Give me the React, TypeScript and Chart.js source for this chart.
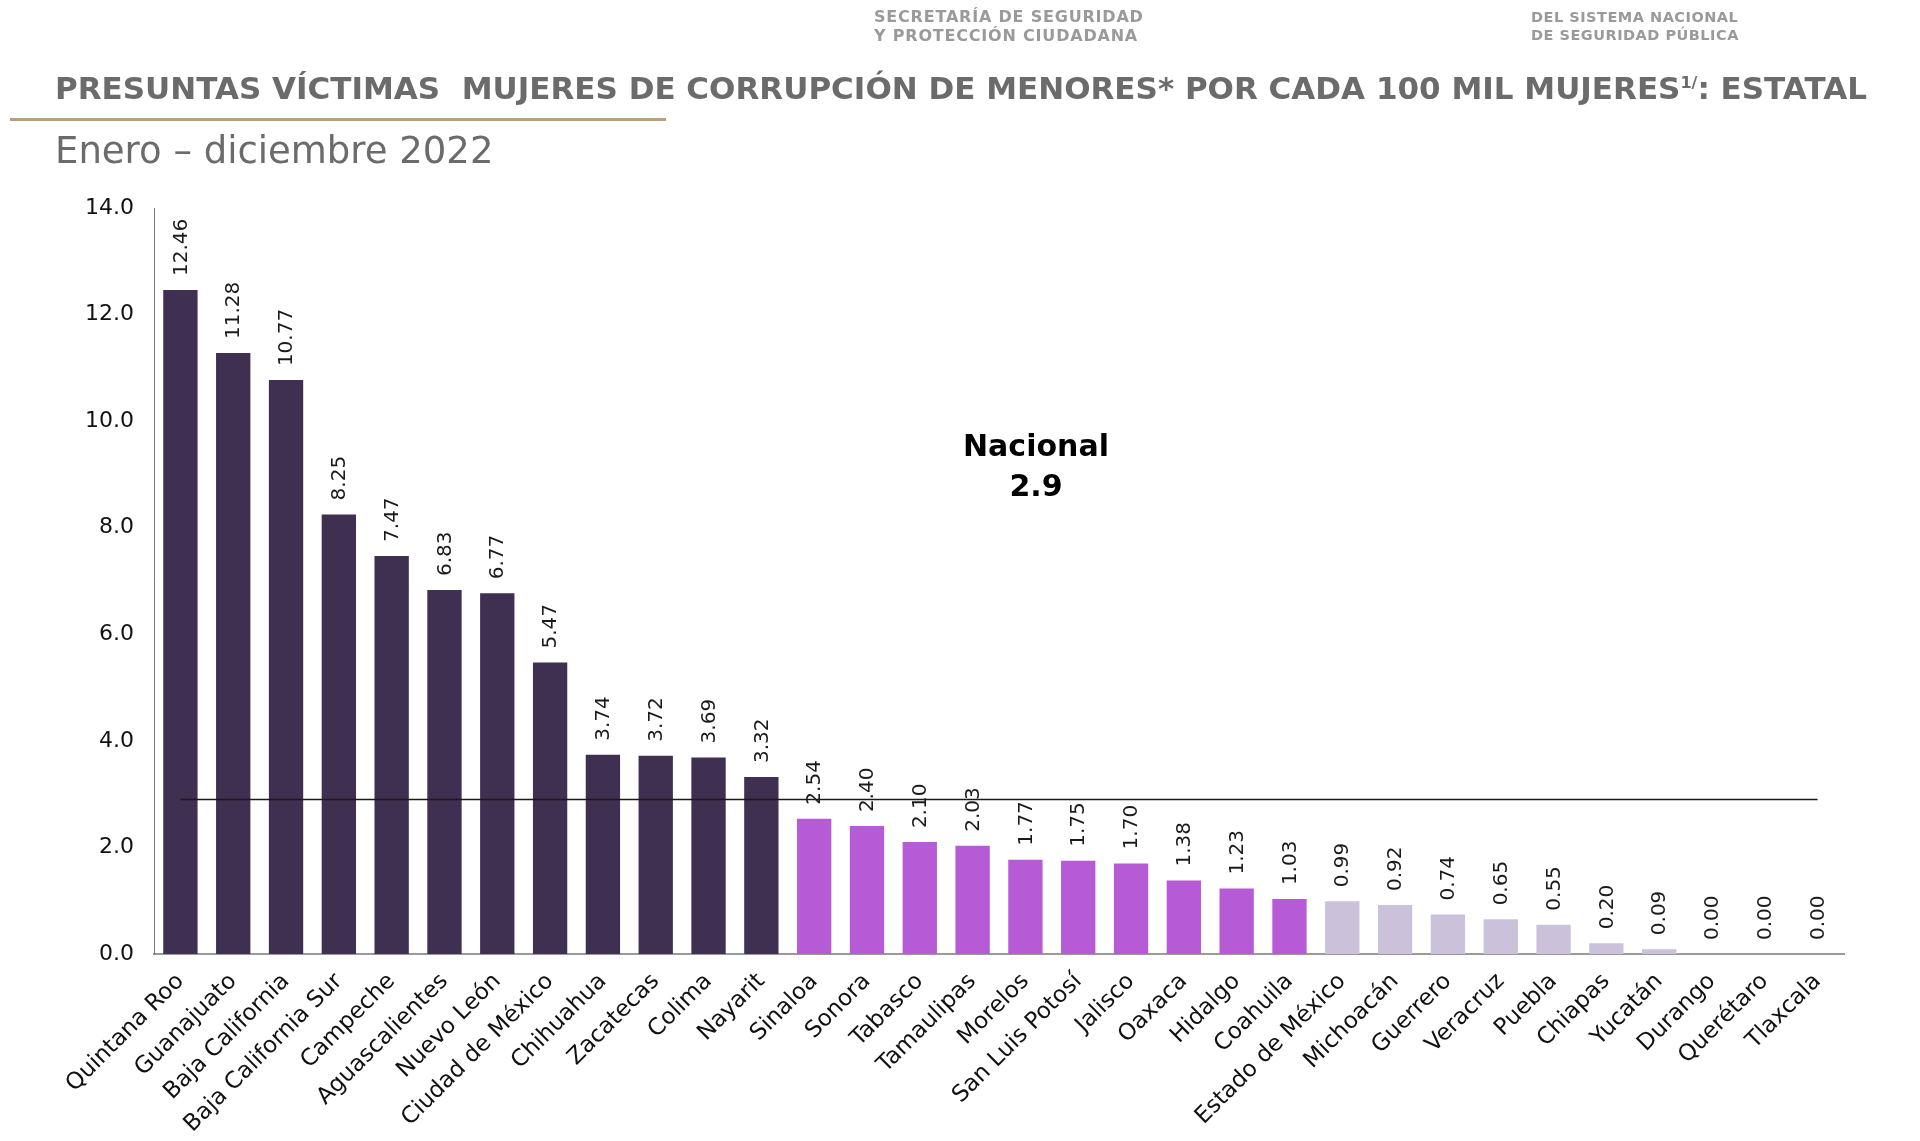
import React, { useEffect, useRef } from "react";
import { Chart, registerables } from "chart.js";

Chart.register(...registerables);

const categories = [
  "Quintana Roo", "Guanajuato", "Baja California", "Baja California Sur", "Campeche",
  "Aguascalientes", "Nuevo León", "Ciudad de México", "Chihuahua", "Zacatecas",
  "Colima", "Nayarit", "Sinaloa", "Sonora", "Tabasco", "Tamaulipas", "Morelos",
  "San Luis Potosí", "Jalisco", "Oaxaca", "Hidalgo", "Coahuila", "Estado de México",
  "Michoacán", "Guerrero", "Veracruz", "Puebla", "Chiapas", "Yucatán", "Durango",
  "Querétaro", "Tlaxcala",
];

const values = [
  12.46, 11.28, 10.77, 8.25, 7.47, 6.83, 6.77, 5.47, 3.74, 3.72, 3.69, 3.32,
  2.54, 2.4, 2.1, 2.03, 1.77, 1.75, 1.7, 1.38, 1.23, 1.03,
  0.99, 0.92, 0.74, 0.65, 0.55, 0.2, 0.09, 0.0, 0.0, 0.0,
];

// group per bar: 0 = high, 1 = medium, 2 = low
const groups = [
  0, 0, 0, 0, 0, 0, 0, 0, 0, 0, 0, 0,
  1, 1, 1, 1, 1, 1, 1, 1, 1, 1,
  2, 2, 2, 2, 2, 2, 2, 2, 2, 2,
];
const groupColors = ["#3f2f50", "#b65bd5", "#cbc1da"];

const nationalValue = 2.9;
const nationalLabel = ["Nacional", "2.9"];
const yTicksMax = 14;
const yTickStep = 2;

const FONT = "'DejaVu Sans', 'Noto Sans', sans-serif";

const dataLabelsPlugin = {
  id: "dataLabels",
  afterDatasetsDraw(chart: any) {
    const ctx = chart.ctx;
    const meta = chart.getDatasetMeta(0);
    ctx.save();
    ctx.fillStyle = "#1a1a1a";
    ctx.font = `20px ${FONT}`;
    ctx.textAlign = "left";
    ctx.textBaseline = "middle";
    meta.data.forEach((bar: any, i: number) => {
      ctx.save();
      ctx.translate(bar.x, bar.y - 14);
      ctx.rotate(-Math.PI / 2);
      ctx.fillText(values[i].toFixed(2), 0, 1);
      ctx.restore();
    });
    ctx.restore();
  },
};

const nationalPlugin = {
  id: "national",
  afterDatasetsDraw(chart: any) {
    const ctx = chart.ctx;
    const meta = chart.getDatasetMeta(0);
    const ys = chart.scales.y;
    const xs = chart.scales.x;
    const y = ys.getPixelForValue(nationalValue);
    const x0 = meta.data[0].x;
    const x1 = meta.data[meta.data.length - 1].x;
    ctx.save();
    ctx.strokeStyle = "#1a1a1a";
    ctx.lineWidth = 1.5;
    ctx.beginPath();
    ctx.moveTo(x0, y);
    ctx.lineTo(x1, y);
    ctx.stroke();
    ctx.fillStyle = "#000";
    ctx.font = `bold 30px ${FONT}`;
    ctx.textAlign = "center";
    ctx.textBaseline = "middle";
    const tx = xs.getPixelForValue(16.2);
    ctx.fillText(nationalLabel[0], tx, ys.getPixelForValue(9.5));
    ctx.fillText(nationalLabel[1], tx, ys.getPixelForValue(8.75));
    ctx.restore();
  },
};

function BarChart() {
  const ref = useRef<HTMLCanvasElement>(null);
  useEffect(() => {
    if (!ref.current) return;
    const chart = new Chart(ref.current, {
      type: "bar",
      data: {
        labels: categories,
        datasets: [
          {
            data: values,
            backgroundColor: groups.map((g) => groupColors[g]),
            barPercentage: 0.65,
            categoryPercentage: 1,
          },
        ],
      },
      options: {
        animation: false,
        responsive: false,
        devicePixelRatio: 1,
        layout: { padding: { top: 208, left: 40, right: 76, bottom: 0 } },
        plugins: { legend: { display: false }, tooltip: { enabled: false } },
        scales: {
          x: {
            grid: { display: false, drawTicks: false },
            border: { display: true, color: "#9a9a9a", width: 2 },
            ticks: {
              color: "#111",
              font: { family: FONT, size: 23 },
              minRotation: 45,
              maxRotation: 45,
              autoSkip: false,
              padding: 14,
            },
            afterFit: (s: any) => {
              s.height = 187;
            },
          },
          y: {
            min: 0,
            max: yTicksMax,
            grid: { display: false, drawTicks: false },
            border: { display: true, color: "#7a7a7a", width: 1 },
            ticks: {
              stepSize: yTickStep,
              color: "#111",
              font: { family: FONT, size: 22 },
              padding: 20,
              callback: (v: any) => Number(v).toFixed(1),
            },
            afterFit: (s: any) => {
              s.width = 114;
            },
          },
        },
      },
      plugins: [dataLabelsPlugin, nationalPlugin],
    });
    return () => chart.destroy();
  }, []);
  return (
    <canvas
      ref={ref}
      width={1920}
      height={1141}
      style={{ position: "absolute", left: 0, top: 0, width: 1920, height: 1141 }}
    />
  );
}

export default function App() {
  const grey = "#6b6b6b";
  return (
    <div
      style={{
        position: "fixed",
        left: 0,
        top: 0,
        width: 1920,
        height: 1141,
        background: "#fff",
        overflow: "hidden",
        fontFamily: FONT,
      }}
    >
      <BarChart />
      <div style={{ position: "absolute", left: 874, top: 7, color: "#9a9a9a", fontWeight: "bold", fontSize: 16, lineHeight: "19px", letterSpacing: 0.8 }}>
        <div>SECRETARÍA DE SEGURIDAD</div>
        <div>Y PROTECCIÓN CIUDADANA</div>
      </div>
      <div style={{ position: "absolute", left: 1531, top: 8, color: "#9a9a9a", fontWeight: "bold", fontSize: 14.5, lineHeight: "18px", letterSpacing: 0.5 }}>
        <div>DEL SISTEMA NACIONAL</div>
        <div>DE SEGURIDAD PÚBLICA</div>
      </div>
      <div
        style={{
          position: "absolute",
          left: 55,
          top: 64,
          color: grey,
          fontWeight: "bold",
          fontSize: 31,
          lineHeight: "38px",
          whiteSpace: "nowrap",
        }}
      >
        PRESUNTAS VÍCTIMAS&nbsp; MUJERES DE CORRUPCIÓN DE MENORES* POR CADA 100 MIL MUJERES
        <sup style={{ fontSize: 16 }}>1/</sup>: ESTATAL
      </div>
      <div style={{ position: "absolute", left: 10, top: 118, width: 656, height: 3, background: "#b8a07a" }} />
      <div
        style={{
          position: "absolute",
          left: 55,
          top: 130,
          color: grey,
          fontSize: 37,
          lineHeight: "42px",
          whiteSpace: "nowrap",
        }}
      >
        Enero – diciembre 2022
      </div>
    </div>
  );
}
